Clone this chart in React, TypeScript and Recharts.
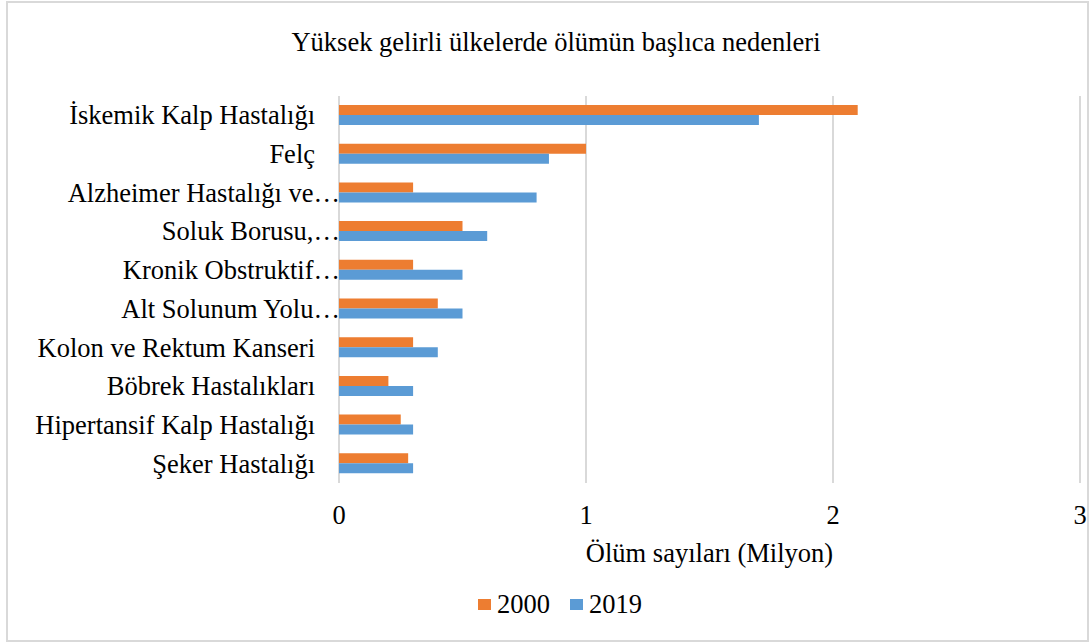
import React from 'react';
import { BarChart, Bar, XAxis, YAxis, CartesianGrid } from 'recharts';

const categories = [
  'İskemik Kalp Hastalığı',
  'Felç',
  'Alzheimer Hastalığı ve…',
  'Soluk Borusu,…',
  'Kronik Obstruktif…',
  'Alt Solunum Yolu…',
  'Kolon ve Rektum Kanseri',
  'Böbrek Hastalıkları',
  'Hipertansif Kalp Hastalığı',
  'Şeker Hastalığı',
];
const values2000 = [2.1, 1.0, 0.3, 0.5, 0.3, 0.4, 0.3, 0.2, 0.25, 0.28];
const values2019 = [1.7, 0.85, 0.8, 0.6, 0.5, 0.5, 0.4, 0.3, 0.3, 0.3];
const xTicks = [0, 1, 2, 3];
const seriesNames = ['2000', '2019'];
const seriesColors = ['#ED7D31', '#5B9BD5'];

const data = categories.map((c, i) => ({
  name: c,
  y2000: values2000[i],
  y2019: values2019[i],
}));

const FONT = '"Liberation Serif", "Times New Roman", serif';
const FS = 26.5;

const YTick = (props: any) => {
  const { x, y, payload } = props;
  const v: string = payload.value;
  const truncated = v.endsWith('…');
  return (
    <text
      x={truncated ? x + 9 : x - 16}
      y={y}
      textAnchor="end"
      dominantBaseline="central"
      fontFamily={FONT}
      fontSize={FS}
      fill="#000"
    >
      {v}
    </text>
  );
};

const XTick = (props: any) => {
  const { x, y, payload } = props;
  return (
    <text
      x={x}
      y={y + 24}
      textAnchor="middle"
      dominantBaseline="central"
      fontFamily={FONT}
      fontSize={FS}
      fill="#000"
    >
      {payload.value}
    </text>
  );
};

export default function App() {
  return (
    <div style={{ position: 'absolute', left: 0, top: 0, width: 1091, height: 643, background: '#fff' }}>
      <div
        style={{
          position: 'absolute',
          left: 6,
          top: 1,
          width: 1083,
          height: 641,
          border: '2px solid #d9d9d9',
          boxSizing: 'border-box',
        }}
      />
      <div
        style={{
          position: 'absolute',
          left: 0,
          top: 27,
          width: 1112,
          textAlign: 'center',
          fontFamily: FONT,
          fontSize: FS,
          color: '#000',
          lineHeight: '30px',
          whiteSpace: 'nowrap',
        }}
      >
        Yüksek gelirli ülkelerde ölümün başlıca nedenleri
      </div>
      <div style={{ position: 'absolute', left: 0, top: 0 }}>
        <BarChart
          width={1091}
          height={643}
          data={data}
          layout="vertical"
          margin={{ top: 96, right: 11, bottom: 120, left: 0 }}
          barGap={0}
          barSize={10}
        >
          <CartesianGrid horizontal={false} vertical={true} stroke="#d9d9d9" strokeWidth={2} />
          <XAxis
            type="number"
            domain={[0, 3]}
            ticks={xTicks}
            axisLine={false}
            tickLine={false}
            tick={<XTick />}
            height={40}
            label={{
              value: 'Ölüm sayıları (Milyon)',
              position: 'bottom',
              offset: 20,
              style: { fontFamily: FONT, fontSize: FS, fill: '#000' },
            }}
          />
          <YAxis
            type="category"
            dataKey="name"
            width={339}
            axisLine={false}
            tickLine={false}
            tick={<YTick />}
            interval={0}
          />
          <Bar dataKey="y2000" name="2000" fill={seriesColors[0]} isAnimationActive={false} />
          <Bar dataKey="y2019" name="2019" fill={seriesColors[1]} isAnimationActive={false} />
        </BarChart>
      </div>
      <div
        style={{
          position: 'absolute',
          left: 478,
          top: 589,
          height: 30,
          display: 'flex',
          alignItems: 'center',
          fontFamily: FONT,
          fontSize: FS,
          color: '#000',
        }}
      >
        {seriesNames.map((n, i) => (
          <div key={n} style={{ display: 'flex', alignItems: 'center', marginRight: 20 }}>
            <span
              style={{
                display: 'inline-block',
                width: 13,
                height: 11,
                background: seriesColors[i],
                marginRight: 6,
              }}
            />
            <span>{n}</span>
          </div>
        ))}
      </div>
    </div>
  );
}
